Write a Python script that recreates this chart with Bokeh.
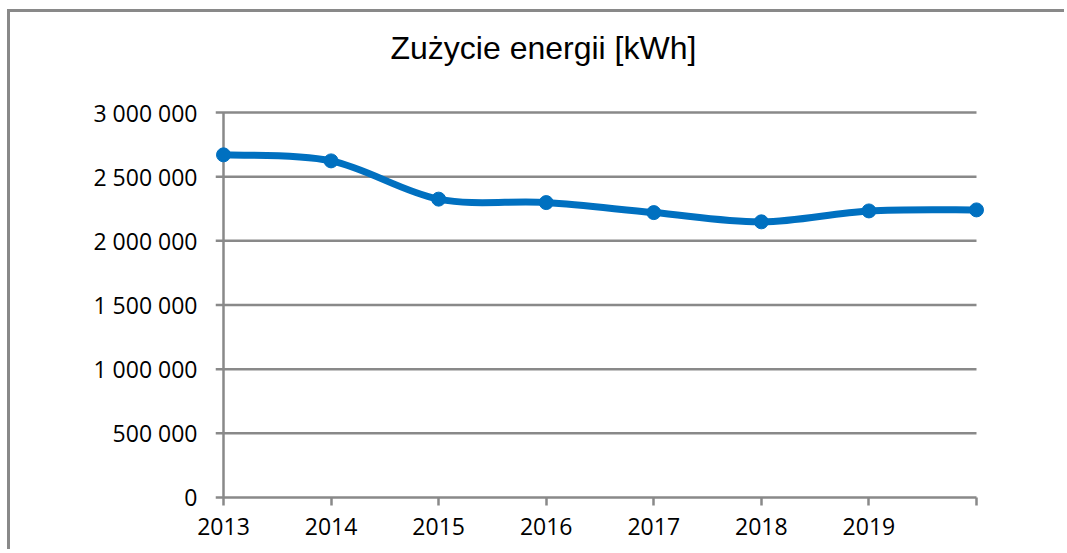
from bokeh.plotting import figure
from bokeh.models import (Range1d, FixedTicker, CustomJSTickFormatter,
                          ColumnDataSource, Title)
from bokeh.embed import file_html
from bokeh.resources import INLINE

# ---- data ----
title_text = "Zużycie energii [kWh]"
years = [2013, 2014, 2015, 2016, 2017, 2018, 2019, 2020]
consumption = [2670000, 2623000, 2325000, 2298000, 2220000, 2148000, 2233000, 2241000]
x_labels = ["2013", "2014", "2015", "2016", "2017", "2018", "2019", ""]
y_ticks = [0, 500000, 1000000, 1500000, 2000000, 2500000, 3000000]

BLUE = "#0070C0"
GRAY = "#898989"

# smooth (Excel-like) bezier segments built from the data
n = len(years)
def pt(i):
    i = max(0, min(n - 1, i))
    return years[i], consumption[i]

x0, y0, x1, y1, cx0, cy0, cx1, cy1 = ([] for _ in range(8))
for i in range(n - 1):
    pxm, pym = pt(i - 1)
    pxa, pya = pt(i)
    pxb, pyb = pt(i + 1)
    pxc, pyc = pt(i + 2)
    x0.append(pxa); y0.append(pya)
    x1.append(pxb); y1.append(pyb)
    cx0.append(pxa + (pxb - pxm) / 6.0); cy0.append(pya + (pyb - pym) / 6.0)
    cx1.append(pxb - (pxc - pxa) / 6.0); cy1.append(pyb - (pyc - pya) / 6.0)

seg = ColumnDataSource(dict(x0=x0, y0=y0, x1=x1, y1=y1, cx0=cx0, cy0=cy0, cx1=cx1, cy1=cy1))
pts = ColumnDataSource(dict(x=years, y=consumption))

xpad = 0.0744
ypad = 31170
x_left = years[0] - xpad

# horizontal gridlines (from the tick list) and the vertical axis line
grid_src = ColumnDataSource(dict(x0=[x_left] * len(y_ticks), x1=[years[-1]] * len(y_ticks),
                                 y=y_ticks))
axis_src = ColumnDataSource(dict(x0=[years[0]], y0=[y_ticks[0]], x1=[years[0]], y1=[y_ticks[-1]]))

p = figure(width=1057, height=540, output_backend="svg", toolbar_location=None,
           x_range=Range1d(x_left, years[-1] + xpad),
           y_range=Range1d(y_ticks[0] - ypad, y_ticks[-1] + ypad),
           min_border_left=205, min_border_right=83, min_border_top=96,
           min_border_bottom=51)
p.styles = {"margin-left": "7px", "margin-top": "9px",
            "border-top": "3px solid " + GRAY, "border-left": "3px solid " + GRAY}
p.outline_line_color = None
p.background_fill_color = "white"
p.border_fill_color = "white"

# spacer between frame and title, then the title itself
p.add_layout(Title(text=" ", text_font_size="1px", standoff=40), "above")
p.add_layout(Title(text=title_text, align="left", offset=175, standoff=0,
                   text_font="Liberation Sans", text_font_size="32px",
                   text_font_style="normal", text_color="#000000"), "above")

# grid
p.xgrid.visible = False
p.ygrid.visible = False
p.segment(x0="x0", y0="y", x1="x1", y1="y", source=grid_src,
          line_color=GRAY, line_width=2.5, level="underlay")

# y axis
p.yaxis.ticker = FixedTicker(ticks=y_ticks)
p.yaxis.formatter = CustomJSTickFormatter(
    code="return Math.round(tick).toString().replace(/\\B(?=(\\d{3})+(?!\\d))/g, ' ');")
p.yaxis.axis_line_color = None
p.yaxis.major_tick_line_color = None
p.yaxis.minor_tick_line_color = None
p.yaxis.major_label_standoff = 12
p.yaxis.major_label_text_font = "Open Sans"
p.yaxis.major_label_text_font_size = "23px"
p.yaxis.major_label_text_color = "#000000"

# x axis
p.xaxis.ticker = FixedTicker(ticks=years)
p.xaxis.major_label_overrides = {y: l for y, l in zip(years, x_labels)}
p.xaxis.axis_line_color = None
p.xaxis.major_tick_line_color = GRAY
p.xaxis.major_tick_line_width = 2.5
p.xaxis.major_tick_in = 4
p.xaxis.major_tick_out = 4
p.xaxis.minor_tick_line_color = None
p.xaxis.major_label_standoff = 12
p.xaxis.major_label_text_font = "Open Sans"
p.xaxis.major_label_text_font_size = "23px"
p.xaxis.major_label_text_color = "#000000"

# vertical axis line at first category
p.segment(x0="x0", y0="y0", x1="x1", y1="y1", source=axis_src,
          line_color=GRAY, line_width=2.5)

p.bezier(x0="x0", y0="y0", x1="x1", y1="y1", cx0="cx0", cy0="cy0",
         cx1="cx1", cy1="cy1", source=seg, line_color=BLUE, line_width=7)
p.scatter(x="x", y="y", source=pts, size=14, marker="circle",
          fill_color=BLUE, line_color=BLUE)

open("out.html", "w").write(file_html(p, INLINE))
